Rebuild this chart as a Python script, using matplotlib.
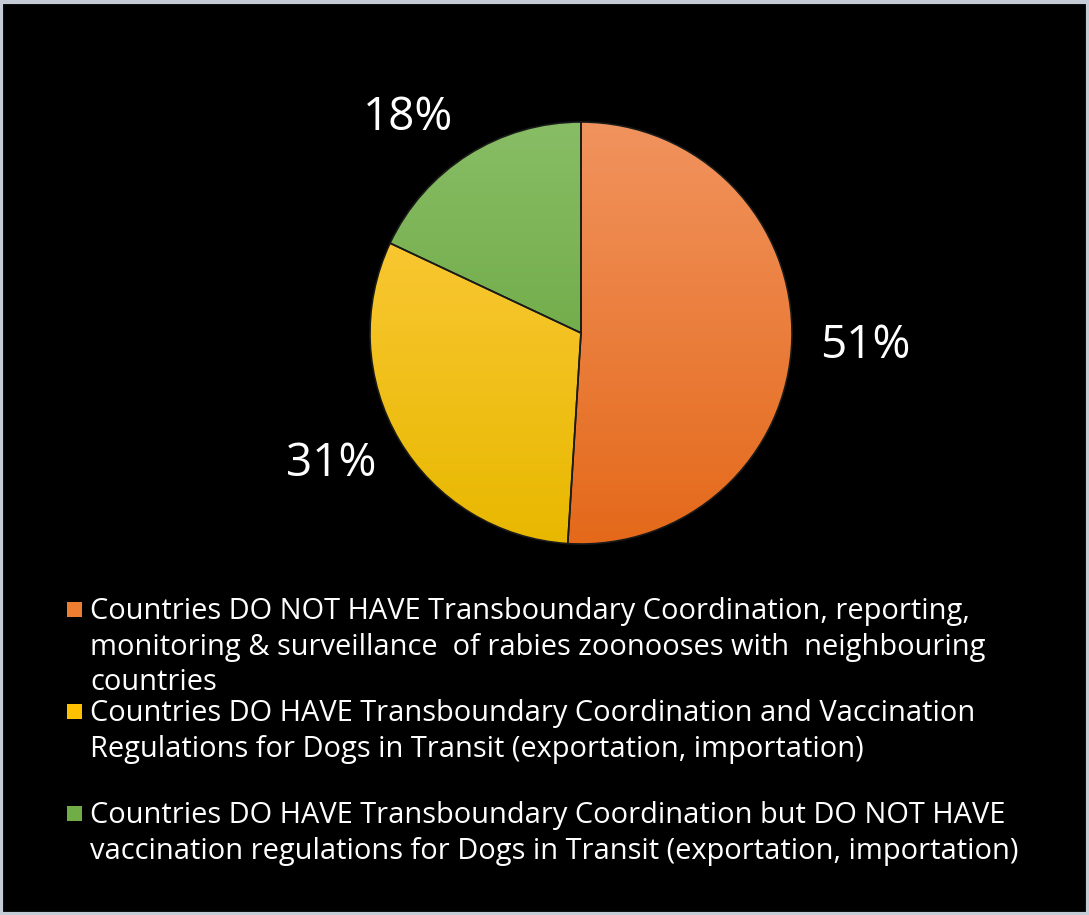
import numpy as np
import matplotlib.pyplot as plt
from matplotlib.colors import to_rgb
from matplotlib.patches import Rectangle

# share of countries per category
shares = [51, 31, 18]
legend_lines = [
    ['Countries DO NOT HAVE Transboundary Coordination, reporting,',
     'monitoring & surveillance  of rabies zoonooses with  neighbouring',
     'countries'],
    ['Countries DO HAVE Transboundary Coordination and Vaccination',
     'Regulations for Dogs in Transit (exportation, importation)'],
    ['Countries DO HAVE Transboundary Coordination but DO NOT HAVE',
     'vaccination regulations for Dogs in Transit (exportation, importation)'],
]
# gradient end colours (top, bottom) per slice
grad_top = ['#f1935e', '#ffcd45', '#88bd65']
grad_bot = ['#e4691a', '#e8b800', '#5f9e32']
swatch = ['#ed7d31', '#ffc000', '#70ad47']

# percent label placement: radius and angular nudge from wedge middle
lab_r = [1.347, 1.331, 1.319]
lab_nudge = [-0.2, -3.5, 6.0]

W, H = 1089, 915
plt.rcParams['font.family'] = ['Open Sans', 'DejaVu Sans']

fig = plt.figure(figsize=(W / 100, H / 100), dpi=100, facecolor='black')
ax = fig.add_axes([370 / W, 1 - 544 / H, 422 / W, 422 / H])
ax.set_facecolor('black')

wedges, texts, autotexts = ax.pie(
    shares, startangle=90, counterclock=False, radius=1,
    autopct=lambda p: '%d%%' % round(p), pctdistance=1.33,
    wedgeprops=dict(edgecolor='#1a1a1a', linewidth=1.2),
    textprops=dict(color='white', fontsize=33))
ax.set_xlim(-1, 1)
ax.set_ylim(-1, 1)
ax.set_aspect('equal')
ax.axis('off')

for w, at, r, dn in zip(wedges, autotexts, lab_r, lab_nudge):
    ang = np.deg2rad((w.theta1 + w.theta2) / 2 + dn)
    at.set_position((r * np.cos(ang), r * np.sin(ang) - 0.015))

# vertical gradient fill clipped to each wedge
t = np.linspace(0, 1, 256)[:, None]
for w, top, bot in zip(wedges, grad_top, grad_bot):
    c1, c2 = np.array(to_rgb(top)), np.array(to_rgb(bot))
    img = (c1 * (1 - t) + c2 * t)[:, None, :]
    w.set_facecolor('none')
    im = ax.imshow(img, extent=[-1, 1, -1, 1], origin='upper',
                   aspect='auto', zorder=w.get_zorder() - 0.1)
    im.set_clip_path(w)

# legend entries below the pie, one text per line
first_baseline = [619, 721, 823]
line_step = 35.5
for y0, lines, col in zip(first_baseline, legend_lines, swatch):
    fig.patches.append(Rectangle((67 / W, 1 - (y0 - 2) / H), 15 / W, 15 / H,
                                 transform=fig.transFigure, facecolor=col,
                                 edgecolor='none'))
    for i, line in enumerate(lines):
        fig.text(90 / W, 1 - (y0 + i * line_step) / H, line, color='white',
                 fontsize=20.9, va='baseline', ha='left')

# thin frame around the figure
fig.patches.append(Rectangle((0.001, 0.001), 0.998, 0.997, transform=fig.transFigure,
                             facecolor='none', edgecolor='#c5ccd6', linewidth=3))

fig.savefig('out.png', dpi=100, facecolor='black')
